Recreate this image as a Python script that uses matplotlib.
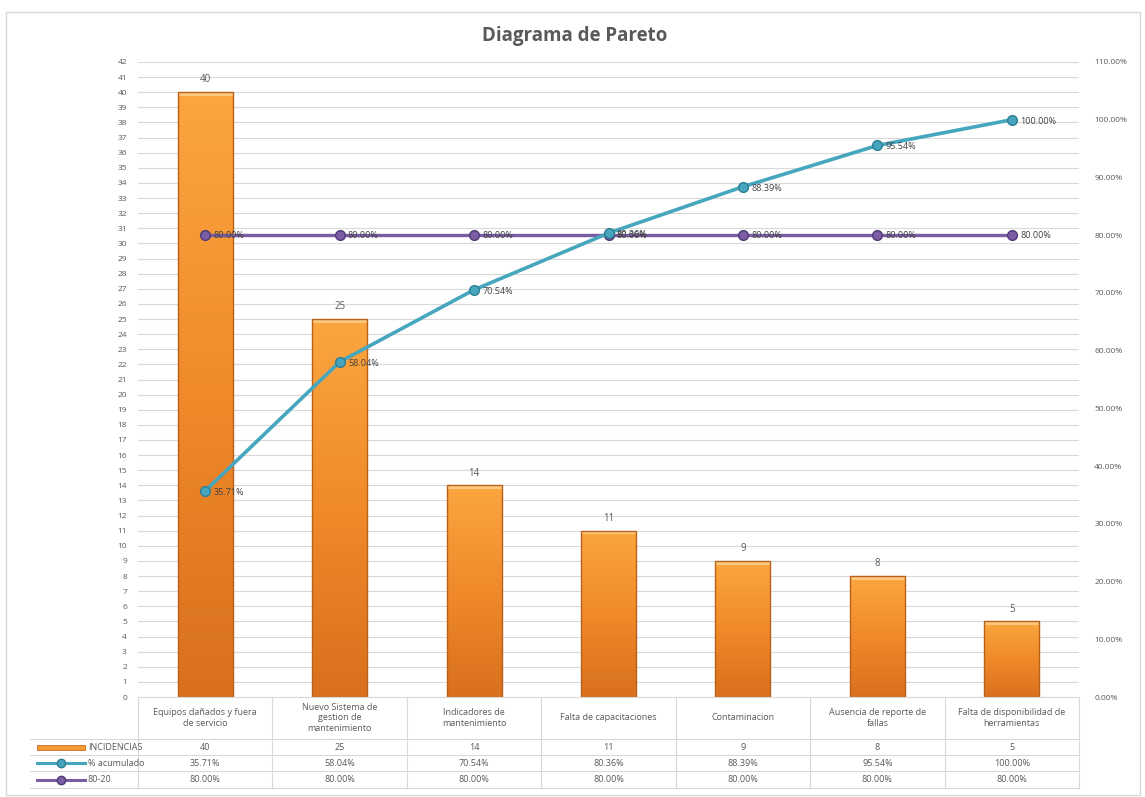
import numpy as np
import matplotlib
matplotlib.use("Agg")
import matplotlib.pyplot as plt
from matplotlib import transforms
from matplotlib.colors import LinearSegmentedColormap
from matplotlib.patches import Rectangle
from matplotlib.lines import Line2D

plt.rcParams['font.family'] = ['Open Sans', 'DejaVu Sans']

# ---- data ----
categories = [
    "Equipos dañados y fuera\nde servicio",
    "Nuevo Sistema de\ngestion de\nmantenimiento",
    "Indicadores de\nmantenimiento",
    "Falta de capacitaciones",
    "Contaminacion",
    "Ausencia de reporte de\nfallas",
    "Falta de disponibilidad de\nherramientas",
]
incidencias = [40, 25, 14, 11, 9, 8, 5]
acumulado = [35.71, 58.04, 70.54, 80.36, 88.39, 95.54, 100.00]
regla_80_20 = [80.00, 80.00, 80.00, 80.00, 80.00, 80.00, 80.00]
series_names = ["INCIDENCIAS", "% acumulado", "80-20"]
left_ticks = list(range(0, 43))
right_ticks = [0, 10, 20, 30, 40, 50, 60, 70, 80, 90, 100, 110]

# ---- style ----
W, H = 1145, 797
txt = '#595959'
grid_c = '#D9D9D9'
teal = '#45A6BD'
teal_edge = '#2E7F94'
purple = '#7A5DA3'
purple_edge = '#4E3A75'

fig = plt.figure(figsize=(W / 100, H / 100), dpi=100)
fig.patch.set_facecolor('white')

def fx(px):
    return px / W

def fy(py):
    return 1 - py / H

ax_l, ax_r, ax_t, ax_b = 138, 1079, 62, 697
ax = fig.add_axes([fx(ax_l), fy(ax_b), fx(ax_r - ax_l), (ax_b - ax_t) / H])

x = np.arange(len(categories))
bar_w = 0.41

# bars with a vertical orange gradient
cmap = LinearSegmentedColormap.from_list('orange', ['#D8701E', '#F08A2A', '#FBA640'])
grad = np.linspace(0, 1, 256).reshape(-1, 1)
bars = ax.bar(x, incidencias, width=bar_w, color='none', edgecolor='#B9611B',
              linewidth=1.0, zorder=3)
for b in bars:
    x0, w, h = b.get_x(), b.get_width(), b.get_height()
    im = ax.imshow(grad, cmap=cmap, origin='lower', aspect='auto',
                   extent=(x0, x0 + w, 0, h), zorder=2)
    im.set_clip_path(b)
    # light highlight at the top of each bar
    ax.add_patch(Rectangle((x0, h - 0.25), w, 0.25, facecolor='#FCC77E',
                           edgecolor='none', zorder=2.5))
    ax.text(b.get_x() + w / 2, h + 0.45, f"{int(h)}", ha='center', va='bottom',
            fontsize=7, color=txt, zorder=4)

ax.set_xlim(-0.5, len(categories) - 0.5)
ax.set_ylim(0, 42)
ax.set_yticks(left_ticks)
ax.set_yticklabels([str(t) for t in left_ticks])
ax.set_xticks([])
ax.tick_params(axis='y', length=0, labelsize=6, labelcolor=txt, pad=8)
ax.yaxis.grid(True, color=grid_c, linewidth=0.8, zorder=0)
ax.set_axisbelow(True)
for s in ax.spines.values():
    s.set_visible(False)

# secondary axis for percentages
ax2 = ax.twinx()
ax2.set_ylim(0, 110)
ax2.set_yticks(right_ticks)
ax2.set_yticklabels([f"{t:.2f}%" for t in right_ticks])
ax2.tick_params(axis='y', length=0, labelsize=6, labelcolor=txt, pad=11)
for s in ax2.spines.values():
    s.set_visible(False)

ax2.plot(x, regla_80_20, color=purple, linewidth=2.4, marker='o', markersize=7,
         markerfacecolor=purple, markeredgecolor=purple_edge, zorder=3)
ax2.plot(x, acumulado, color=teal, linewidth=2.6, marker='o', markersize=7,
         markerfacecolor=teal, markeredgecolor=teal_edge, zorder=4)
for xi, v in zip(x, regla_80_20):
    ax2.annotate(f"{v:.2f}%", (xi, v), xytext=(6, 0), textcoords='offset points',
                 ha='left', va='center', fontsize=6.5, color='#404040', zorder=5)
for xi, v in zip(x, acumulado):
    ax2.annotate(f"{v:.2f}%", (xi, v), xytext=(6, -1), textcoords='offset points',
                 ha='left', va='center', fontsize=6.5, color='#404040', zorder=5)

# ---- data table under the plot ----
tr = transforms.blended_transform_factory(ax.transData, fig.transFigure)
row_lines = [697, 739, 755, 771, 788]
lw_t = 0.8
# top line of header (category axis)
fig.add_artist(Line2D([-0.5, 6.5], [fy(697), fy(697)], transform=tr,
                      color=grid_c, linewidth=lw_t))
# horizontal row lines, extending under the legend column
for py in row_lines[1:]:
    fig.add_artist(Line2D([fx(30), fx(ax_r)], [fy(py), fy(py)],
                          transform=fig.transFigure, color=grid_c, linewidth=lw_t))
# vertical column lines
for i in range(len(categories) + 1):
    fig.add_artist(Line2D([i - 0.5, i - 0.5], [fy(697), fy(788)], transform=tr,
                          color=grid_c, linewidth=lw_t))
# category headers
for i, c in enumerate(categories):
    fig.text(i, fy(718), c, transform=tr, ha='center', va='center',
             fontsize=6.5, color=txt, linespacing=1.25)

row_vals = [
    [str(v) for v in incidencias],
    [f"{v:.2f}%" for v in acumulado],
    [f"{v:.2f}%" for v in regla_80_20],
]
for r, vals in enumerate(row_vals):
    cy = (row_lines[r + 1] + row_lines[r + 2]) / 2
    for i, v in enumerate(vals):
        fig.text(i, fy(cy), v, transform=tr, ha='center', va='center',
                 fontsize=6.5, color=txt)
    # legend keys
    fig.text(fx(88), fy(cy), series_names[r], ha='left', va='center',
             fontsize=6.5, color=txt)

cy0 = (row_lines[1] + row_lines[2]) / 2
fig.add_artist(Rectangle((fx(37), fy(cy0 + 2.5)), fx(48), 5 / H,
                         transform=fig.transFigure, facecolor='#F39A35',
                         edgecolor='#C8691E', linewidth=0.6))
for r, (col, ecol) in enumerate([(teal, teal_edge), (purple, purple_edge)], start=1):
    cy = (row_lines[r + 1] + row_lines[r + 2]) / 2
    fig.add_artist(Line2D([fx(37), fx(85)], [fy(cy), fy(cy)],
                          transform=fig.transFigure, color=col, linewidth=2.2))
    fig.add_artist(Line2D([fx(61)], [fy(cy)], transform=fig.transFigure,
                          marker='o', markersize=6, color=col,
                          markeredgecolor=ecol, linestyle='none'))

# title and chart border
fig.text(fx(575), fy(36), "Diagrama de Pareto", ha='center', va='center',
         fontsize=13.5, fontweight='bold', color=txt)
fig.add_artist(Rectangle((fx(6), fy(795)), fx(1134), (795 - 12) / H,
                         transform=fig.transFigure, facecolor='none',
                         edgecolor='#D9D9D9', linewidth=1.0))

fig.savefig('out.png', dpi=100, facecolor='white')
